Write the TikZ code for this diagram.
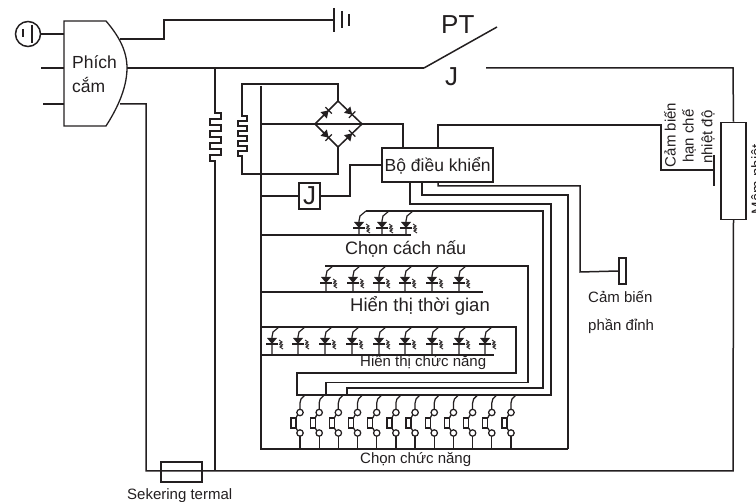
\documentclass[tikz,border=0pt]{standalone}
\usepackage{fontspec}
\setmainfont{Liberation Sans}
\definecolor{ink}{HTML}{231F20}
\newcommand{\fs}[1]{\fontsize{#1}{#1}\selectfont}
\tikzset{
  wire/.style={draw=ink,line width=1.5pt,line join=miter},
  thickwire/.style={draw=ink,line width=1.9pt,line join=miter},
  box/.style={draw=ink,line width=1.5pt,fill=white,inner sep=0pt,minimum width=#1},
  box/.default=10pt,
  lab/.style={inner sep=0pt,anchor=base west,text=ink,font=\fs{15}},
  biglab/.style={inner sep=0pt,anchor=base west,text=ink,font=\fs{17.5}},
  huge lab/.style={inner sep=0pt,anchor=base west,text=ink,font=\fs{26}},
  vlab/.style={inner sep=0pt,anchor=center,rotate=90,text=ink,font=\fs{15}},
}
\newcommand{\ledsym}[3]{% x, top y, bus y
  \draw[wire,line width=1.2pt] (#1+7,#2) -- (#1+1,#2+5) -- (#1,#2+10) -- (#1,#3);
  \fill[ink] (#1-5,#2+11) -- (#1+5,#2+11) -- (#1,#2+17) -- cycle;
  \draw[wire,line width=1.2pt] (#1-6,#2+17) -- (#1+6,#2+17);
  \draw[wire,line width=.9pt] (#1+7,#2+13) -- (#1+10,#2+15) -- (#1+8,#2+16) -- (#1+11,#2+18);
  \draw[wire,line width=.9pt] (#1+7,#2+17) -- (#1+10,#2+19) -- (#1+8,#2+20) -- (#1+11,#2+22);
}
\newcommand{\pushsym}[1]{% x
  \draw[wire,line width=1.25pt] (#1+5,395) -- (#1+1,399) -- (#1,403) -- (#1,409);
  \draw[wire,line width=1.25pt] (#1,412.5) circle (3.2);
  \draw[wire,line width=1.25pt] (#1,433) circle (3.2);
  \draw[wire,line width=1.25pt] (#1,436.2) -- (#1,449);
  \draw[wire,line width=1.25pt] (#1-2.5,415) -- (#1-4,418) (#1-2.5,430.5) -- (#1-4,428);
  \draw[wire,line width=1.3pt] (#1-9,418) rectangle (#1-4,428);
}
\newcommand{\diodesym}[3]{% x, y, angle
  \begin{scope}[shift={(#1,#2)},rotate=#3]
    \fill[ink] (-4,-4.5) -- (-4,4.5) -- (3,0) -- cycle;
    \draw[wire,line width=1.3pt] (3,-4.5) -- (3,4.5);
  \end{scope}
}
\begin{document}
\begin{tikzpicture}[x=1pt,y=-1pt]
\useasboundingbox (0,0) rectangle (756,502);

% ----- junction points -----
\coordinate (plugTop) at (64,34);
\coordinate (plugMid) at (64,68);
\coordinate (plugLow) at (64,104);
\coordinate (stubMid) at (41,68);
\coordinate (stubLow) at (43,104);
\coordinate (plugOutE) at (120,39);
\coordinate (plugMain) at (127,68);
\coordinate (plugOutS) at (120,104);
\coordinate (batt) at (334,20);
\coordinate (swA) at (424,68);
\coordinate (swB) at (497,27);
\coordinate (swC) at (486,68);
\coordinate (r1Top) at (215,68);
\coordinate (r1Bot) at (215,471);
\coordinate (fuseL) at (146,471);
\coordinate (heatCorner) at (733,68);
\coordinate (heatLow) at (733,471);
\coordinate (brT) at (338,101);
\coordinate (brR) at (362,124);
\coordinate (brB) at (338,147);
\coordinate (brL) at (315,124);
\coordinate (busTop) at (261,86);
\coordinate (busBot) at (261,449);
\coordinate (busEnd) at (568,449);
\coordinate (r2Top) at (242,84);
\coordinate (r2Bot) at (242,174);

% ----- nodes -----
\node[box,minimum width=25pt,minimum height=97pt] (heater) at (733.5,171) {};
\node[box,minimum width=41pt,minimum height=20pt,fill=none] (fuse) at (181.5,472) {};
\node[box,minimum width=111pt,minimum height=34pt] (ctrl) at (437.5,165) {};
\node[box,minimum width=21pt,minimum height=26pt] (jbox) at (309.5,196) {};
\node[box,minimum width=7pt,minimum height=26pt] (sensor) at (622.5,271) {};
\node[inner sep=0pt,font=\fs{26},text=ink] (jtxt) at (309.5,196) {J};
\node[biglab] (ctrltxt) at (384.5,172) {Bộ điều khiển};

% ----- plug -----
\draw[wire,line width=1.3pt] (64,21) -- (106,21) .. controls (118,35) and (127,50) .. (127,68)
  .. controls (127,90) and (115,112) .. (106,126) -- (64,126) -- cycle;
\node[biglab] (plugA) at (72,69) {Phích};
\node[biglab] (plugB) at (72,93) {cắm};

% ----- earth -----
\node[circle,draw=ink,line width=1.5pt,minimum size=25pt,inner sep=0pt] (earth) at (28,34) {};
\draw[wire,line width=1.8pt] (23,29) -- (23,37) (32,25) -- (32,43);
\draw[wire] (earth) -- (plugTop);
\draw[wire] (stubMid) -- (plugMid);
\draw[wire] (stubLow) -- (plugLow);

% ----- top wires -----
\draw[thickwire] (plugOutE) -| (164,20) -- (batt);
\draw[wire,line width=2.2pt] (334,8) -- (334,32);
\draw[wire,line width=2pt] (342,11) -- (342,28);
\draw[wire,line width=2.4pt] (349,14) -- (349,26);
\draw[thickwire] (plugMain) -- (swA);
\draw[wire] (swA) -- (swB);
\draw[wire] (swC) -- (heatCorner) -- (heater.north);
\draw[wire] (heater.south) -- (heatLow) -- (fuseL) -- (146,104) -- (plugOutS);
\node[huge lab] (pt) at (441,34) {PT};
\node[huge lab] (jsw) at (445,86) {J};

% ----- resistor 1 -----
\draw[wire] (r1Top) -- (215,113) -- (221,113) -- (221,119) -- (210,119) -- (210,125) -- (221,125)
  -- (221,131) -- (210,131) -- (210,137) -- (221,137) -- (221,143) -- (210,143) -- (210,149)
  -- (221,149) -- (221,155) -- (210,155) -- (210,161) -- (215,161) -- (r1Bot);

% ----- resistor 2 + bridge -----
\draw[wire] (brT) -- (338,84) -- (r2Top) -- (242,116) -- (247,116) -- (247,121) -- (238,121)
  -- (238,126) -- (247,126) -- (247,131) -- (238,131) -- (238,136) -- (247,136) -- (247,141)
  -- (238,141) -- (238,146) -- (247,146) -- (247,151) -- (238,151) -- (238,156) -- (242,156)
  -- (r2Bot) -- (338,174) -- (brB);
\draw[wire] (brT) -- (brR) -- (brB) -- (brL) -- cycle;
\draw[thickwire] (busTop) -- (busBot) -- (busEnd);
\draw[wire] (261,124) -- (403,124) -- (403,148);
\diodesym{326.5}{112.5}{45}
\diodesym{350}{112.5}{-45}
\diodesym{326.5}{135.5}{-45}
\diodesym{350}{135.5}{45}

% ----- controller wiring -----
\draw[wire] (ctrl.west) -| (350,196) -- (jbox.east);
\draw[wire] (jbox.west) -- (261,196);
\coordinate (c438) at (438,148);
\draw[wire] (c438) -- (438,125) -- (661,125) -- (661,170) -- (714,170);
\draw[wire] (714,155) -- (714,186);
\coordinate (d438) at (438,182);
\draw[wire] (d438) -- (438,186) -- (580,186) -- (580,272) -- (sensor.west);
\coordinate (d422) at (422,182);
\draw[thickwire] (d422) -- (422,195) -- (568,195) -- (busEnd);
\coordinate (d410) at (410,182);
\draw[wire] (d410) -- (410,204) -- (551,204) -- (551,395) -- (297,395) -- (297,373) -- (516,373) -- (516,327) -- (261,327);

% ----- LED rows -----
\draw[wire] (366,211) -- (543,211) -- (543,388) -- (347,388) -- (347,395);
\draw[wire] (261,235) -- (411,235);
\foreach \x in {359,382,406} {\ledsym{\x}{211}{235}}
\draw[wire] (325,266) -- (528,266) -- (528,382.5) -- (326,382.5) -- (326,395);
\draw[wire] (261,292) -- (483,292);
\foreach \x in {326,353,379,405,432,459} {\ledsym{\x}{266}{292}}
\draw[wire] (261,355) -- (494,355);
\foreach \x in {272,298,325,352,379,405,432,459,485} {\ledsym{\x}{327}{355}}

% ----- push buttons -----
\foreach \i in {0,...,11} {\pushsym{300+19.18*\i}}

% ----- labels -----
\node[inner sep=0pt,anchor=base west,text=ink,font=\fs{18}] (l1) at (345,255) {Chọn cách nấu};
\node[inner sep=0pt,anchor=base west,text=ink,font=\fs{18.5}] (l2) at (350,312) {Hiển thị thời gian};
\node[lab] (l3) at (360,367) {Hiển thị chức năng};
\node[lab] (l4) at (360,464) {Chọn chức năng};
\node[lab] (l5) at (127,500) {Sekering termal};
\node[lab] (l6) at (588,303) {Cảm biến};
\node[lab] (l7) at (588,331) {phần đỉnh};
\node[vlab] (v1) at (670,135) {Cảm biến};
\node[vlab] (v2) at (689,136) {hạn chế};
\node[vlab] (v3) at (708,137) {nhiệt độ};
\node[vlab,anchor=base] (v4) at (762,179) {Mâm nhiệt};
\end{tikzpicture}
\end{document}
